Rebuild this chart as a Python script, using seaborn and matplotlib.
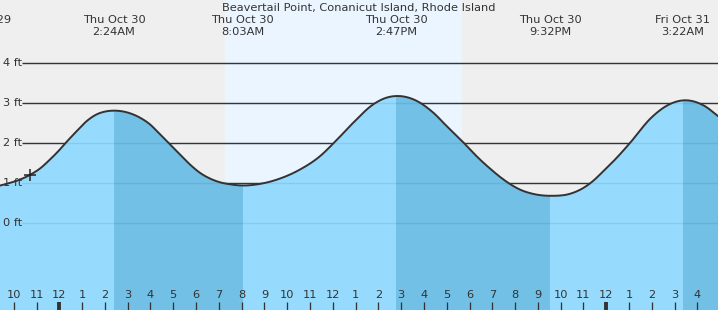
import numpy as np
import pandas as pd
import matplotlib
matplotlib.use("Agg")
import matplotlib.pyplot as plt
from matplotlib.patches import Rectangle
import seaborn as sns

# ---- data (hours from midnight Thu Oct 30, heights in ft) ----
curve_t = [-2.602, -2.163, -1.724, -1.286, -0.847, -0.408, -0.044, 0.325, 0.763, 1.202,
           1.641, 2.080, 2.457, 3.102, 3.541, 3.980, 4.419, 4.858, 5.297, 5.735,
           6.174, 6.613, 7.051, 7.490, 8.050, 8.806, 9.684, 10.562, 11.439, 12.097,
           12.900, 13.778, 14.366, 14.848, 15.533, 16.411, 16.999, 17.701, 18.020, 18.459,
           18.898, 19.337, 19.701, 20.215, 20.799, 21.606, 22.409, 22.922, 23.361, 23.870,
           24.458, 25.011, 25.976, 26.709, 27.442, 28.320, 28.903]
curve_h = [0.933, 1.000, 1.083, 1.200, 1.358, 1.583, 1.790, 2.025, 2.290, 2.540,
           2.708, 2.785, 2.800, 2.735, 2.625, 2.458, 2.208, 1.960, 1.708, 1.458,
           1.250, 1.108, 1.015, 0.965, 0.935, 0.975, 1.108, 1.333, 1.665, 2.025,
           2.500, 2.958, 3.125, 3.165, 3.083, 2.750, 2.415, 2.025, 1.833, 1.583,
           1.358, 1.150, 1.000, 0.833, 0.725, 0.678, 0.728, 0.850, 1.020, 1.290,
           1.625, 1.975, 2.625, 2.940, 3.058, 2.915, 2.665]

event_t = [-3.55, 2.40, 8.05, 14.783, 21.533, 27.367]
event_day = ["Wed Oct 29", "Thu Oct 30", "Thu Oct 30", "Thu Oct 30", "Thu Oct 30", "Fri Oct 31"]
event_time = ["", "2:24AM", "8:03AM", "2:47PM", "9:32PM", "3:22AM"]
falling = [(2.40, 8.05), (14.783, 21.533), (27.367, 30.0)]

daylight = (7.27, 17.66)
now_t, now_h = -1.286, 1.19
y_levels = [0, 1, 2, 3, 4]
hour_ticks = list(range(-2, 29))
title = "Beavertail Point, Conanicut Island, Rhode Island"


def smooth_path(t, h, per_seg=24):
    """Render the read points as a smooth cubic Hermite curve (drawing only)."""
    t = np.asarray(t, float)
    h = np.asarray(h, float)
    n = len(t)
    m = np.zeros(n)
    d = np.diff(h) / np.diff(t)
    m[0], m[-1] = d[0], d[-1]
    for i in range(1, n - 1):
        a, b = t[i] - t[i - 1], t[i + 1] - t[i]
        m[i] = (d[i] * a + d[i - 1] * b) / (a + b)
    xs, ys = [], []
    for i in range(n - 1):
        dt = t[i + 1] - t[i]
        s = np.linspace(0, 1, per_seg, endpoint=(i == n - 2))
        h00 = 2 * s**3 - 3 * s**2 + 1
        h10 = s**3 - 2 * s**2 + s
        h01 = -2 * s**3 + 3 * s**2
        h11 = s**3 - s**2
        xs.append(t[i] + s * dt)
        ys.append(h00 * h[i] + h10 * dt * m[i] + h01 * h[i + 1] + h11 * dt * m[i + 1])
    return np.concatenate(xs), np.concatenate(ys)


# ---- figure ----
sns.set_theme(style="white")
plt.rcParams["font.family"] = ["DejaVu Sans"]
W, H = 718, 310
fig = plt.figure(figsize=(W / 100, H / 100), dpi=100)
ax = fig.add_axes([0, 0, 1, 1])
x0, x1 = -2.602, 28.903
y0, y1 = -2.1675, 5.5575
ax.set_xlim(x0, x1)
ax.set_ylim(y0, y1)
ax.set_facecolor("#EFEFEF")
for s in ax.spines.values():
    s.set_visible(False)

ax.axvspan(*daylight, color="#EBF5FF", zorder=0, lw=0)

# grid lines
gx = x0 + (x1 - x0) * 22 / W
for lv in y_levels:
    ax.plot([gx, x1], [lv, lv], color="#333333", lw=1.0, zorder=1, solid_capstyle="butt")

st, sh = smooth_path(curve_t, curve_h)
df = pd.DataFrame({"t": st, "h": sh})
ax.fill_between(df["t"], df["h"], y0, color="#96DBFD", lw=0, zorder=2)
for a, b in falling:
    dark = ax.fill_between(df["t"], df["h"], y0, color="#72C0E5", lw=0, zorder=2.5)
    rect = Rectangle((a, y0), b - a, y1 - y0, transform=ax.transData)
    dark.set_clip_path(rect)

# faint lines seen through water
for lv in y_levels:
    ax.plot([gx, x1], [lv, lv], color="#1A5A80", lw=1.0, alpha=0.12, zorder=3)

sns.lineplot(data=df, x="t", y="h", ax=ax, color="#333333", lw=1.4, zorder=4,
             sort=False, estimator=None)
ax.plot([now_t], [now_h], marker="+", ms=9, mew=1.1, color="#222222", zorder=5)

fs = 8.2
tc = "#333333"
# y labels
for lv in y_levels:
    ax.text(x0 + (x1 - x0) * 3 / W, lv, f"{lv} ft", ha="left", va="center",
            fontsize=fs, color=tc, zorder=6)

# title
ax.text(0.5, 1 - 8 / H, title, transform=ax.transAxes, ha="center", va="center",
        fontsize=fs, color=tc)
# event labels
for t, d, tm in zip(event_t, event_day, event_time):
    ax.text(t, 1 - 20 / H, d, transform=ax.get_xaxis_transform(), ha="center",
            va="center", fontsize=fs, color=tc, clip_on=False)
    if tm:
        ax.text(t, 1 - 32 / H, tm, transform=ax.get_xaxis_transform(), ha="center",
                va="center", fontsize=fs, color=tc, clip_on=False)

# hour ticks
xt = ax.get_xaxis_transform()
for h in hour_ticks:
    hh = h % 24
    lab = str(12 if hh % 12 == 0 else hh % 12)
    lw = 3 if hh == 0 else 1
    ax.plot([h, h], [0, 8 / H], transform=xt, color="#333333", lw=lw * 0.72 * 1.3,
            zorder=6, solid_capstyle="butt")
    ax.text(h, 1 - 295.5 / H, lab, transform=xt, ha="center", va="center",
            fontsize=fs, color=tc, zorder=6)

ax.set_xticks([])
ax.set_yticks([])
ax.set_xlabel("")
ax.set_ylabel("")
fig.savefig("out.png", dpi=100)
